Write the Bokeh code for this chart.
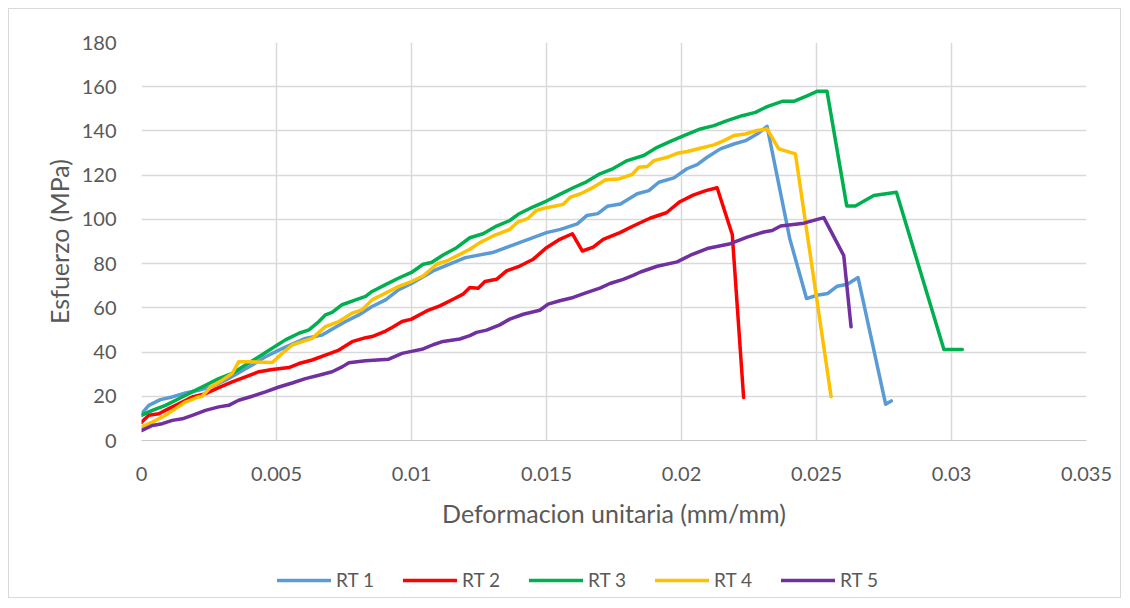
from bokeh.plotting import figure
from bokeh.models import Range1d, FixedTicker, Legend, LegendItem, Spacer
from bokeh.layouts import column, row
from bokeh.embed import file_html
from bokeh.resources import INLINE

# ---- data (strain mm/mm, stress MPa) ----
series_names = ["RT 1", "RT 2", "RT 3", "RT 4", "RT 5"]
series_colors = ["#5B9BD5", "#FF0000", "#00B050", "#FFC000", "#7030A0"]

rt1_x = [0, 0.00027, 0.0007, 0.00114, 0.00163, 0.00212, 0.00262, 0.00311, 0.0036, 0.0041,
         0.00459, 0.00509, 0.00558, 0.00607, 0.00669, 0.00712, 0.00756, 0.00805, 0.00854, 0.00904,
         0.00953, 0.0100, 0.0108, 0.0120, 0.0130, 0.0140, 0.0150, 0.01552, 0.01614, 0.0165,
         0.0169, 0.01725, 0.01774, 0.01836, 0.01879, 0.01916, 0.01972, 0.0202, 0.02058, 0.02095,
         0.02144, 0.02194, 0.02237, 0.0228, 0.02317, 0.02401, 0.02463, 0.02502, 0.02542, 0.02577,
         0.02614, 0.02654, 0.02756, 0.02777]
rt1_y = [12.1, 15.9, 18.5, 19.7, 21.5, 22.7, 24.5, 27.3, 30.6, 34.1,
         37.9, 40.9, 43.6, 46.2, 47.7, 50.8, 53.8, 56.8, 60.6, 63.6,
         68.2, 71.0, 76.7, 82.7, 85.0, 89.5, 94.0, 95.5, 98.0, 101.8,
         102.6, 105.9, 107.0, 111.6, 113.0, 116.8, 118.8, 122.9, 124.8, 128.1,
         131.9, 134.1, 135.6, 138.6, 142.1, 91.3, 64.2, 65.7, 66.5, 69.8,
         70.7, 73.7, 16.4, 17.9]

rt2_x = [0, 0.00027, 0.00064, 0.00101, 0.00151, 0.00188, 0.00237, 0.00286, 0.00336, 0.00385,
         0.00435, 0.00484, 0.00546, 0.00583, 0.00632, 0.00681, 0.00731, 0.0078, 0.0083, 0.00854,
         0.00904, 0.00928, 0.00965, 0.0100, 0.01056, 0.01105, 0.01154, 0.01191, 0.01216, 0.01247,
         0.01272, 0.01315, 0.01352, 0.01401, 0.01451, 0.0150, 0.01549, 0.01596, 0.01633, 0.01673,
         0.0171, 0.01772, 0.01821, 0.01883, 0.01944, 0.01994, 0.02043, 0.0209, 0.02132, 0.02188,
         0.0223]
rt2_y = [8.3, 11.4, 12.1, 14.4, 17.4, 19.7, 21.2, 23.9, 26.5, 28.8,
         31.1, 32.1, 33.0, 34.8, 36.4, 38.6, 40.9, 44.7, 46.5, 47.0,
         49.5, 51.1, 53.8, 54.9, 58.6, 60.9, 63.9, 66.2, 69.2, 68.9,
         71.9, 72.9, 76.7, 78.9, 82.0, 87.2, 91.0, 93.5, 85.7, 87.5,
         91.0, 94.0, 97.0, 100.5, 103.0, 108.0, 111.0, 113.0, 114.3, 93.2,
         19.5]

rt3_x = [0, 0.0004, 0.00089, 0.00138, 0.00188, 0.00237, 0.00286, 0.00336, 0.00385, 0.00435,
         0.00484, 0.00533, 0.00583, 0.0062, 0.00657, 0.00681, 0.00706, 0.00743, 0.00793, 0.0083,
         0.00854, 0.00904, 0.00953, 0.0100, 0.01043, 0.01074, 0.01117, 0.01167, 0.01216, 0.01265,
         0.01315, 0.01364, 0.01395, 0.01451, 0.0150, 0.01549, 0.01599, 0.01648, 0.01698, 0.01747,
         0.01799, 0.0186, 0.0191, 0.01959, 0.02009, 0.0207, 0.0212, 0.02169, 0.02225, 0.02274,
         0.02317, 0.02373, 0.02416, 0.02465, 0.02502, 0.02539, 0.02612, 0.02644, 0.02712, 0.02796,
         0.02972, 0.0304]
rt3_y = [11.4, 13.6, 15.9, 18.9, 22.0, 25.0, 28.0, 30.3, 34.1, 37.9,
         41.7, 45.5, 48.5, 50.0, 53.8, 56.8, 57.9, 61.4, 63.6, 65.2,
         67.4, 70.5, 73.5, 76.0, 79.7, 80.5, 83.9, 87.2, 91.7, 93.5,
         97.0, 99.5, 102.3, 105.7, 108.3, 111.3, 114.3, 117.0, 120.6, 123.0,
         126.6, 128.9, 132.6, 135.3, 137.9, 140.9, 142.4, 144.7, 146.9, 148.4,
         151.0, 153.4, 153.4, 155.9, 157.9, 157.9, 106.1, 106.1, 110.8, 112.3,
         41.2, 41.2]

rt4_x = [0, 0.0004, 0.00089, 0.00126, 0.00163, 0.00212, 0.00225, 0.00256, 0.00299, 0.00336,
         0.0036, 0.00398, 0.00484, 0.00521, 0.00558, 0.00595, 0.00632, 0.00681, 0.00731, 0.0078,
         0.00817, 0.00854, 0.00904, 0.00953, 0.0100, 0.01043, 0.01093, 0.0113, 0.01179, 0.01216,
         0.01253, 0.01302, 0.01364, 0.01395, 0.01432, 0.01463, 0.0150, 0.01562, 0.01589, 0.01626,
         0.01675, 0.01719, 0.01768, 0.01817, 0.01842, 0.01873, 0.01898, 0.01947, 0.01984, 0.02021,
         0.0207, 0.0212, 0.02157, 0.02194, 0.02237, 0.0228, 0.02317, 0.0236, 0.02422, 0.02554]
rt4_y = [6.1, 8.3, 11.4, 14.4, 17.4, 19.7, 20.0, 24.2, 27.3, 30.3,
         35.6, 35.6, 35.3, 39.4, 43.2, 44.7, 46.2, 51.5, 53.8, 57.6,
         59.1, 63.6, 66.7, 69.7, 71.9, 74.4, 79.7, 81.2, 84.2, 86.5,
         89.5, 92.5, 95.5, 98.9, 100.5, 104.1, 105.3, 106.8, 110.1, 111.6,
         114.6, 117.9, 118.3, 120.3, 123.6, 123.9, 126.6, 128.1, 129.9, 130.7,
         132.2, 133.7, 135.6, 137.9, 138.6, 140.2, 140.9, 131.9, 129.6, 19.9]

rt5_x = [0, 0.0004, 0.00077, 0.00114, 0.00151, 0.00188, 0.00237, 0.00286, 0.00323, 0.0036,
         0.0041, 0.00459, 0.00509, 0.00558, 0.00607, 0.00657, 0.00706, 0.00743, 0.00768, 0.0083,
         0.00916, 0.00965, 0.0100, 0.01043, 0.0108, 0.01117, 0.01179, 0.01216, 0.01241, 0.01278,
         0.01327, 0.01364, 0.01414, 0.01475, 0.01506, 0.01549, 0.01599, 0.01648, 0.01698, 0.01735,
         0.01784, 0.01821, 0.01848, 0.0191, 0.01984, 0.02033, 0.02095, 0.02181, 0.02243, 0.02305,
         0.02336, 0.02367, 0.02453, 0.02527, 0.02601, 0.02628]
rt5_y = [4.5, 6.8, 7.6, 9.1, 9.8, 11.4, 13.6, 15.2, 15.9, 18.2,
         20.0, 22.0, 24.2, 26.0, 28.0, 29.5, 31.1, 33.3, 35.2, 36.1,
         36.8, 39.4, 40.3, 41.4, 43.3, 44.8, 45.9, 47.4, 48.9, 49.9,
         52.3, 54.9, 57.1, 58.9, 61.7, 63.2, 64.7, 66.9, 68.9, 71.0,
         72.9, 74.7, 76.2, 78.8, 80.8, 83.8, 86.8, 89.0, 92.0, 94.3,
         95.0, 97.0, 98.3, 100.8, 83.6, 51.4]

x_ticks = [0, 0.005, 0.01, 0.015, 0.02, 0.025, 0.03, 0.035]
x_tick_labels = ["0", "0.005", "0.01", "0.015", "0.02", "0.025", "0.03", "0.035"]
y_ticks = [0, 20, 40, 60, 80, 100, 120, 140, 160, 180]

x_title = "Deformacion unitaria (mm/mm)"
y_title = "Esfuerzo (MPa)"

FONT = "Lato"
TXT = "#595959"
GRID = "#d9d9d9"
BORDER = "1px solid #d9d9d9"

p = figure(width=1113, height=540, output_backend="svg", toolbar_location=None,
           x_range=Range1d(0, 0.035), y_range=Range1d(0, 180),
           min_border_left=132, min_border_right=36, min_border_top=33,
           min_border_bottom=109)
p.styles = {"border-left": BORDER, "border-top": BORDER, "border-right": BORDER}
p.outline_line_color = None
p.background_fill_color = "white"
p.border_fill_color = "white"

p.xaxis.ticker = FixedTicker(ticks=x_ticks)
p.yaxis.ticker = FixedTicker(ticks=y_ticks)
p.xaxis.major_label_overrides = {t: l for t, l in zip(x_ticks, x_tick_labels)}

for ax in (p.xaxis[0], p.yaxis[0]):
    ax.major_tick_line_color = None
    ax.minor_tick_line_color = None
    ax.major_label_text_font = FONT
    ax.major_label_text_font_size = "20px"
    ax.major_label_text_color = TXT
    ax.axis_label_text_font = FONT
    ax.axis_label_text_font_size = "25px"
    ax.axis_label_text_color = TXT
    ax.axis_label_text_font_style = "normal"

p.xaxis.axis_label = x_title
p.yaxis.axis_label = y_title
p.xaxis.axis_line_color = "#c9c9c9"
p.yaxis.axis_line_color = None
p.xaxis.major_label_standoff = 20
p.yaxis.major_label_standoff = 19
p.xaxis.axis_label_standoff = 14
p.yaxis.axis_label_standoff = 5

p.xgrid.grid_line_color = GRID
p.ygrid.grid_line_color = GRID
p.xgrid.grid_line_width = 1.5
p.ygrid.grid_line_width = 1.5

xs = [rt1_x, rt2_x, rt3_x, rt4_x, rt5_x]
ys = [rt1_y, rt2_y, rt3_y, rt4_y, rt5_y]
for color, x, y in zip(series_colors, xs, ys):
    p.line(x, y, line_color=color, line_width=3.5, line_join="round", line_cap="round")

# legend strip under the chart (its ranges keep the data out of view; only the legend shows)
lg = figure(width=1113, height=50, output_backend="svg", toolbar_location=None,
            x_axis_type=None, y_axis_type=None,
            x_range=Range1d(-2, -1), y_range=Range1d(-2, -1),
            min_border_left=0, min_border_right=0, min_border_top=0, min_border_bottom=0)
lg.styles = {"border-left": BORDER, "border-bottom": BORDER, "border-right": BORDER}
lg.outline_line_color = None
lg.background_fill_color = "white"
lg.border_fill_color = "white"
items = []
for name, color, x, y in zip(series_names, series_colors, xs, ys):
    r = lg.line(x, y, line_color=color, line_width=3.5, line_cap="round")
    items.append(LegendItem(label=name, renderers=[r]))

legend = Legend(items=items, orientation="horizontal", location=(136, 7),
                glyph_width=54, glyph_height=20, label_height=20, label_width=67,
                label_standoff=5, spacing=0, padding=0, margin=0,
                border_line_color=None, background_fill_alpha=0,
                label_text_font=FONT, label_text_font_size="19px",
                label_text_color=TXT)
lg.add_layout(legend, "center")

root = column(Spacer(height=8), row(Spacer(width=8), column(p, lg, spacing=0), spacing=0), spacing=0)

open("out.html", "w").write(file_html(root, INLINE))
